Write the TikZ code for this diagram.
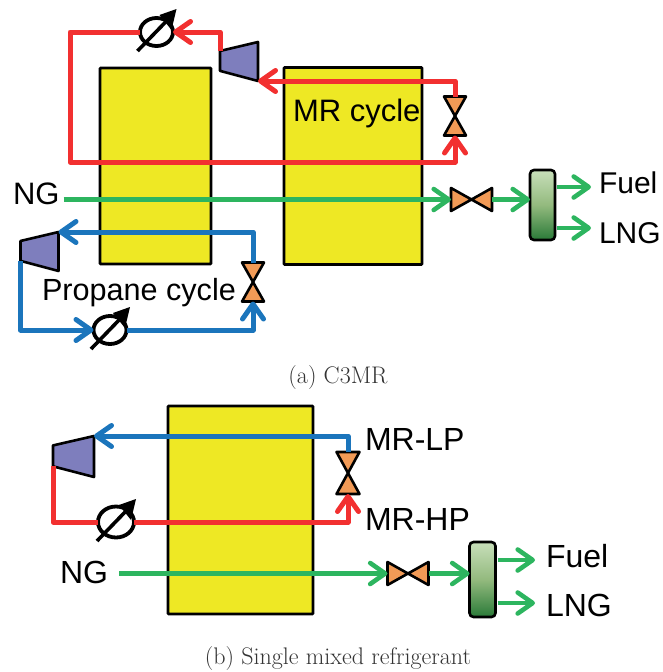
\documentclass[tikz,border=0pt]{standalone}
\usepackage{fontspec}
\usetikzlibrary{shapes,arrows.meta,positioning,calc}
\newfontfamily\labelfont{Liberation Sans}
\definecolor{hxyellow}{HTML}{EEE824}
\definecolor{mrred}{HTML}{F23030}
\definecolor{c3blue}{HTML}{1B75BC}
\definecolor{nggreen}{HTML}{2DB55F}
\definecolor{compblue}{HTML}{7E7EBD}
\definecolor{valveorange}{HTML}{F19A56}
\definecolor{septop}{HTML}{C8DFBA}
\definecolor{sepmid}{HTML}{93BA7E}
\definecolor{sepbot}{HTML}{2A7A38}
\tikzstyle{exchanger} = [rectangle, draw=black, fill=hxyellow, line width=2.8pt, inner sep=0, outer sep=0, rounded corners=0.8pt]
\tikzstyle{separator} = [rectangle, draw=black, line width=2.6pt, rounded corners=4pt, inner sep=0, outer sep=0, minimum width=25, top color=septop, bottom color=sepbot, middle color=sepmid]
\tikzstyle{valvebox} = [rectangle, inner sep=0, outer sep=0]
\tikzstyle{compbox} = [rectangle, inner sep=0, outer sep=0, minimum width=38, minimum height=39]
\tikzstyle{pumpbox} = [ellipse, draw=black, line width=3.8pt, inner sep=0, outer sep=0, minimum width=33, minimum height=28]
\tikzstyle{symbol} = [draw=black, line width=2.6pt, line join=round]
\tikzstyle{stream} = [line width=5pt, line join=round]
\tikzstyle{redline} = [stream, draw=mrred]
\tikzstyle{blueline} = [stream, draw=c3blue]
\tikzstyle{greenline} = [stream, line width=4.6pt, draw=nggreen]
\tikzstyle{tipped} = [-{Straight Barb[length=15pt,width=21pt,round]}]
\tikzstyle{lbl} = [font=\labelfont\fontsize{30}{36}\selectfont, inner sep=0, outer sep=0, anchor=west]
\tikzstyle{lblb} = [font=\labelfont\fontsize{32}{38}\selectfont, inner sep=0, outer sep=0, anchor=west]
\tikzstyle{caption} = [font=\fontsize{24}{28}\selectfont, text=black!80, inner sep=0]
\newcommand{\valvev}[2]{
  \node[valvebox, minimum width=22, minimum height=39, #2] (#1) {};
  \draw[symbol, fill=valveorange] (#1.north west) -- (#1.north east) -- (#1.south west) -- (#1.south east) -- cycle;
}
\newcommand{\valveh}[2]{
  \node[valvebox, minimum width=41, minimum height=23, #2] (#1) {};
  \draw[symbol, fill=valveorange] (#1.north west) -- (#1.south east) -- (#1.north east) -- (#1.south west) -- cycle;
}
\newcommand{\compressor}[2]{
  \node[compbox, #2] (#1) {};
  \coordinate (#1top) at ($(#1.north west)!0.23!(#1.south west)$);
  \coordinate (#1bot) at ($(#1.north west)!0.74!(#1.south west)$);
  \draw[symbol, fill=compblue] (#1top) -- (#1.north east) -- (#1.south east) -- (#1bot) -- cycle;
}
\newcommand{\pump}[2]{
  \node[pumpbox, #2] (#1) {};
  \draw[draw=black, line width=3.6pt] ($(#1)+(-19,19)$) -- ($(#1)+(11,-12)$);
  \fill[black] ($(#1)+(20,-23)$) -- ($(#1)+(3,-17)$) -- ($(#1)+(15,-2)$) -- cycle;
}
\begin{document}
\begin{tikzpicture}[x=1pt, y=-1pt]
\useasboundingbox (0,0) rectangle (662,672);

% C3MR exchangers
\node[exchanger, minimum width=111, minimum height=196] (hxpre) at (155.5,166) {};
\node[exchanger, minimum width=138, minimum height=197, right=73 of hxpre] (hxmr) {};

% MR cycle
\valvev{valvemr}{at={(455,116)}}
\compressor{compmr}{at={(239,61.5)}}
\pump{pumpmr}{at={(156.5,32)}}
\coordinate (mrcorner) at (70,162);
\draw[redline, tipped] (valvemr.north) |- (compmr.south east);
\draw[redline, tipped] (compmrtop) |- (pumpmr.east);
\draw[redline, tipped] (pumpmr.west) -| (mrcorner) -| (valvemr.south);
\node[lbl, font=\labelfont\fontsize{31}{36}\selectfont] (mrcycle) at (293,113) {MR cycle};

% Natural gas feed
\node[lbl, inner sep=4, font=\labelfont\fontsize{31}{36}\selectfont] (ngtop) at (9,194) {NG};
\valveh{valvea}{at={(471.5,199.5)}}
\node[separator, minimum height=70, right=38 of valvea.east, anchor=west, yshift=-5.5] (sepa) {};
\draw[greenline, tipped] (ngtop.east |- valvea.west) -- (valvea.west);
\draw[greenline, tipped] (valvea.east) -- (valvea.east -| sepa.west);

% Products
\node[lbl] (fuela) at (599,183) {Fuel};
\node[lbl] (lnga) at (599,233) {LNG};
\coordinate (fuelaend) at (591,187);
\coordinate (lngaend) at (591,228);
\draw[greenline, tipped, shorten <=2] (sepa.east |- fuelaend) -- (fuelaend);
\draw[greenline, tipped, shorten <=2] (sepa.east |- lngaend) -- (lngaend);

% Propane cycle
\valvev{valvec3}{at={(253,282)}}
\compressor{compc3}{at={(39.5,251.5)}}
\pump{pumpc3}{at={(110,330)}}
\coordinate (c3corner) at (21,330);
\draw[blueline, tipped] (valvec3.north) |- (compc3.north east);
\draw[blueline, tipped] (compc3bot) |- (pumpc3.west);
\draw[blueline, tipped] (pumpc3.east) -| (valvec3.south);
\node[lbl, font=\labelfont\fontsize{30.6}{36}\selectfont] (c3cycle) at (42,292.5) {Propane cycle};

\node[caption] (capa) at (338,378) {(a) C3MR};

% Single mixed refrigerant
\node[exchanger, minimum width=145, minimum height=208] (hxsmr) at (240.5,510) {};
\valvev{valvesmr}{at={(348,473)}, minimum width=23, minimum height=42}
\compressor{compsmr}{at={(73.5,456.5)}, minimum width=41, minimum height=41}
\pump{pumpsmr}{at={(116,522)}, minimum width=36, minimum height=31}
\draw[blueline, tipped] (valvesmr.north) |- (compsmr.north east);
\draw[redline] (compsmrbot) |- (pumpsmr.west);
\draw[redline, tipped] (pumpsmr.east) -| (valvesmr.south);
\node[lblb] (mrlp) at (365,439) {MR-LP};
\node[lblb] (mrhp) at (365,519) {MR-HP};

% Natural gas feed
\node[lblb, inner sep=11] (ngsmr) at (49,572) {NG};
\valveh{valveb}{at={(408,573.5)}}
\node[separator, minimum width=26, minimum height=75, right=41 of valveb.east, anchor=west, yshift=-6] (sepb) {};
\draw[greenline, tipped] (ngsmr.east |- valveb.west) -- (valveb.west);
\draw[greenline, tipped] (valveb.east) -- (valveb.east -| sepb.west);

% Products
\node[lblb] (fuelb) at (546,556) {Fuel};
\node[lblb] (lngb) at (546,605) {LNG};
\coordinate (fuelbend) at (535,560);
\coordinate (lngbend) at (535,603);
\draw[greenline, tipped, shorten <=2] (sepb.east |- fuelbend) -- (fuelbend);
\draw[greenline, tipped, shorten <=2] (sepb.east |- lngbend) -- (lngbend);

\node[caption] (capb) at (338,659) {(b) Single mixed refrigerant};

\end{tikzpicture}
\end{document}
